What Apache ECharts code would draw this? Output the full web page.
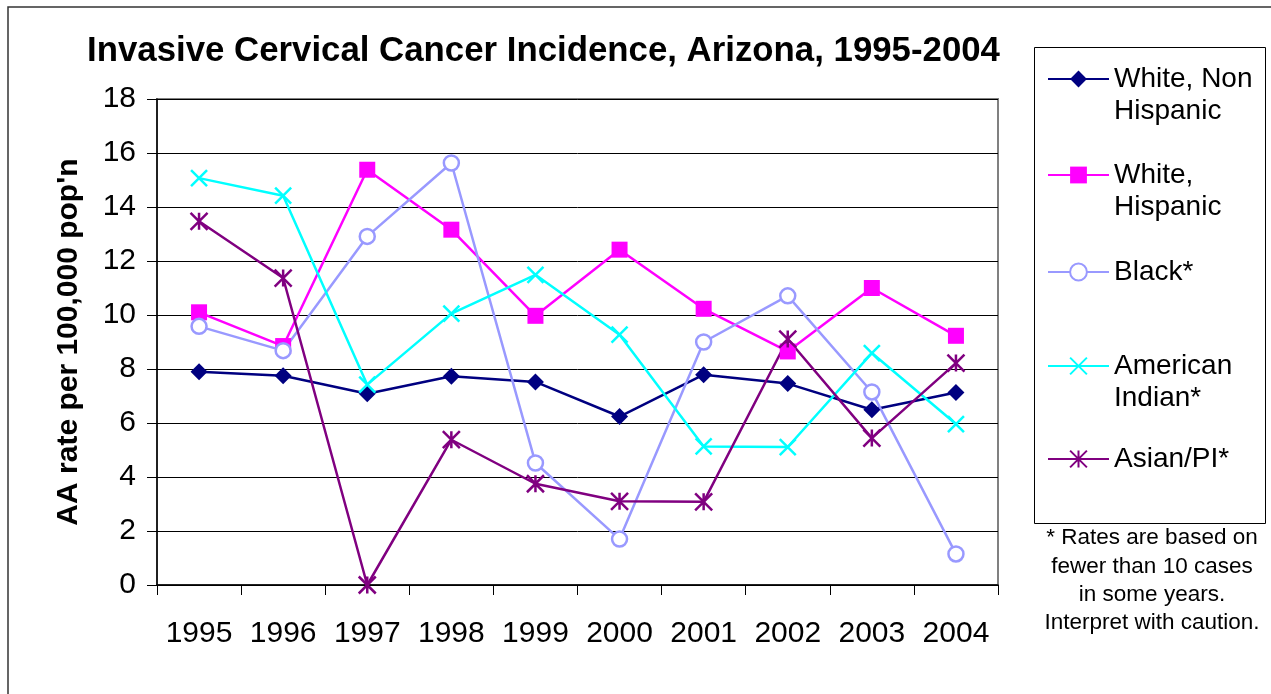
<!DOCTYPE html>
<html>
<head>
<meta charset="utf-8">
<script src="https://cdn.jsdelivr.net/npm/echarts@6/dist/echarts.min.js"></script>
<style>
html,body{margin:0;padding:0;background:#fff;}
#chart{width:1271px;height:694px;}
</style>
</head>
<body>
<div id="chart"></div>
<script>
const years = ['1995','1996','1997','1998','1999','2000','2001','2002','2003','2004'];
const whiteNonHispanic = [7.9, 7.75, 7.08, 7.73, 7.52, 6.24, 7.79, 7.46, 6.49, 7.13];
const whiteHispanic = [10.1, 8.85, 15.38, 13.16, 9.97, 12.42, 10.23, 8.65, 11.0, 9.23];
const black = [9.58, 8.68, 12.91, 15.63, 4.52, 1.70, 9.0, 10.71, 7.15, 1.15];
const americanIndian = [15.07, 14.42, 7.42, 10.05, 11.49, 9.27, 5.13, 5.11, 8.59, 5.96];
const asianPI = [13.47, 11.37, 0, 5.38, 3.75, 3.10, 3.08, 9.11, 5.44, 8.22];
const yTicks = {min: 0, max: 18, interval: 2};

const titleText = 'Invasive Cervical Cancer Incidence, Arizona, 1995-2004';
const yAxisName = "AA rate per 100,000 pop'n";
const footnote = '* Rates are based on\nfewer than 10 cases\nin some years.\nInterpret with caution.';

const names = ['White, Non\nHispanic', 'White,\nHispanic', 'Black*', 'American\nIndian*', 'Asian/PI*'];

const FONT = '"Liberation Sans", Arial, sans-serif';
const X_PATH = 'path://M0 0L10 10M10 0L0 10';
const STAR_PATH = 'path://M0 0L10 10M10 0L0 10M5 0L5 10';

function lineSeries(name, data, color, symbol, size, itemStyle) {
  return {
    name: name,
    type: 'line',
    data: data,
    symbol: symbol,
    symbolSize: size,
    showAllSymbol: true,
    lineStyle: {color: color, width: 2.5},
    itemStyle: itemStyle,
    emphasis: {disabled: true},
    z: 3
  };
}

const series = [
  lineSeries(names[0], whiteNonHispanic, '#000080', 'diamond', 17, {color: '#000080'}),
  lineSeries(names[1], whiteHispanic, '#FF00FF', 'rect', 16, {color: '#FF00FF'}),
  lineSeries(names[2], black, '#9999FF', 'circle', 15, {color: '#FFFFFF', borderColor: '#9999FF', borderWidth: 2.5}),
  lineSeries(names[3], americanIndian, '#00FFFF', X_PATH, 16, {color: '#00FFFF', borderColor: '#00FFFF', borderWidth: 2.5}),
  lineSeries(names[4], asianPI, '#800080', STAR_PATH, 17, {color: '#800080', borderColor: '#800080', borderWidth: 2.5})
];

const legendTops = [31, 127, 256, 318, 443];
const legends = names.map((n, i) => ({
  data: [n],
  left: 1047,
  top: legendTops[i],
  padding: 0,
  itemWidth: 61,
  itemHeight: 21,
  selectedMode: false,
  formatter: (name) => name.indexOf('\n') >= 0 ? '\n' + name : name,
  textStyle: {fontSize: 28, lineHeight: 32, color: '#000', fontFamily: FONT}
}));

const chart = echarts.init(document.getElementById('chart'), null, {renderer: 'canvas'});
chart.setOption({
  animation: false,
  backgroundColor: '#fff',
  title: {
    text: titleText,
    left: 87,
    top: 34,
    padding: 0,
    textStyle: {fontSize: 34.8, fontWeight: 'bold', color: '#000', fontFamily: FONT}
  },
  legend: legends,
  grid: {
    left: 157, top: 99, right: 273, bottom: 109,
    show: true, borderColor: '#808080', borderWidth: 2, backgroundColor: 'transparent'
  },
  xAxis: {
    type: 'category',
    data: years,
    boundaryGap: true,
    axisLine: {lineStyle: {color: '#000', width: 1.5}},
    axisTick: {show: true, length: 10, alignWithLabel: false, interval: 0, lineStyle: {color: '#000'}},
    axisLabel: {fontSize: 30, color: '#000', margin: 34, interval: 0, fontFamily: FONT},
    splitLine: {show: false}
  },
  yAxis: {
    type: 'value',
    min: yTicks.min, max: yTicks.max, interval: yTicks.interval,
    name: yAxisName,
    nameLocation: 'middle',
    nameRotate: 90,
    nameGap: 73,
    nameTextStyle: {fontSize: 30, fontWeight: 'bold', color: '#000', fontFamily: FONT},
    axisLine: {show: true, lineStyle: {color: '#000', width: 1.5}},
    axisTick: {show: true, length: 10, lineStyle: {color: '#000'}},
    axisLabel: {fontSize: 30, color: '#000', margin: 21, fontFamily: FONT},
    splitLine: {show: true, lineStyle: {color: '#000', width: 1}}
  },
  series: series,
  graphic: [
    {type: 'rect', silent: true, z: -1, shape: {x: 8, y: 7, width: 1400, height: 800},
     style: {fill: 'none', stroke: '#333', lineWidth: 1.5}},
    {type: 'rect', silent: true, shape: {x: 1034.5, y: 47.5, width: 231, height: 476},
     style: {fill: 'none', stroke: '#000', lineWidth: 1}},
    {type: 'text', silent: true, x: 1152, y: 524,
     style: {text: footnote, fontSize: 22.5, lineHeight: 28.3, fill: '#000', fontFamily: FONT,
             align: 'center', verticalAlign: 'top'}}
  ]
});
</script>
</body>
</html>
